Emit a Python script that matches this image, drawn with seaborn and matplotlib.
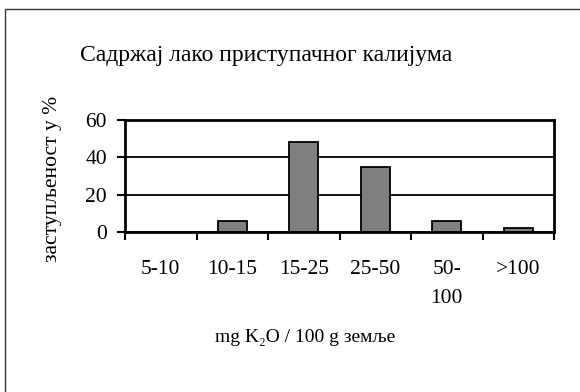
import matplotlib
matplotlib.use("Agg")
import matplotlib.pyplot as plt
from matplotlib.patches import Rectangle
from matplotlib.ticker import FixedLocator, NullFormatter
import seaborn as sns
import pandas as pd

# Potassium availability classes (mg K2O per 100 g soil) and share of samples in %
categories = ["5-10", "10-15", "15-25", "25-50", "50-\n100", ">100"]
shares = [0, 6, 48, 35, 6, 2]
y_ticks = [0, 20, 40, 60]

title_text = "Садржај лако приступачног калијума"
y_label = "заступљеност у %"
x_label = "mg K\u2082O / 100 g земље"

sns.set_theme(style="white")
plt.rcParams["font.family"] = ["Liberation Serif", "DejaVu Serif"]

W, H = 580, 392
fig = plt.figure(figsize=(W / 100, H / 100), dpi=100)
fig.patch.set_facecolor("white")

def fx(px):
    return px / W

def fy(py):
    return 1 - py / H

ax = fig.add_axes([fx(125), fy(232), fx(554) - fx(125), fy(120) - fy(232)])

df = pd.DataFrame({"class": categories, "share": shares})
sns.barplot(data=df, x="class", y="share", color="#808080", saturation=1,
            edgecolor="black", linewidth=1.3, width=0.4, ax=ax)

ax.set_xlim(-0.5, len(categories) - 0.5)
ax.set_ylim(0, 60)
ax.set_yticks(y_ticks)
ax.yaxis.grid(True, color="black", linewidth=1.3)
ax.set_axisbelow(True)

# boundary ticks between classes, labels centred under each bar
ax.xaxis.set_major_locator(FixedLocator([i - 0.5 for i in range(len(categories) + 1)]))
ax.xaxis.set_major_formatter(NullFormatter())
ax.xaxis.set_minor_locator(FixedLocator(list(range(len(categories)))))
ax.set_xticklabels(categories, minor=True)
ax.tick_params(axis="x", which="major", direction="out", length=6, width=1.5,
               color="black", bottom=True)
ax.tick_params(axis="x", which="minor", length=0, pad=20, labelsize=15.5,
               labelcolor="black")
ax.tick_params(axis="y", direction="out", length=6, width=1.5, color="black",
               left=True, pad=7, labelsize=15.5, labelcolor="black")
for lbl in ax.get_xticklabels(minor=True):
    lbl.set_linespacing(1.7)
    lbl.set_verticalalignment("top")

for side in ["left", "right", "top", "bottom"]:
    ax.spines[side].set_visible(True)
    ax.spines[side].set_color("black")
    ax.spines[side].set_linewidth(2)

ax.set_xlabel("")
ax.set_ylabel("")

fig.text(fx(266), fy(55), title_text, ha="center", va="center", fontsize=17,
         color="black")
fig.text(fx(53), fy(179), y_label, ha="center", va="center", rotation=90,
         fontsize=15.5, color="black")
fig.text(fx(305), fy(338), x_label, ha="center", va="center", fontsize=14,
         color="black")

# chart frame
fig.patches.append(Rectangle((fx(5), -0.5), 2, fy(9) + 0.5,
                             transform=fig.transFigure, fill=False,
                             edgecolor="#333333", linewidth=1.0))

fig.savefig("out.png", dpi=100)
